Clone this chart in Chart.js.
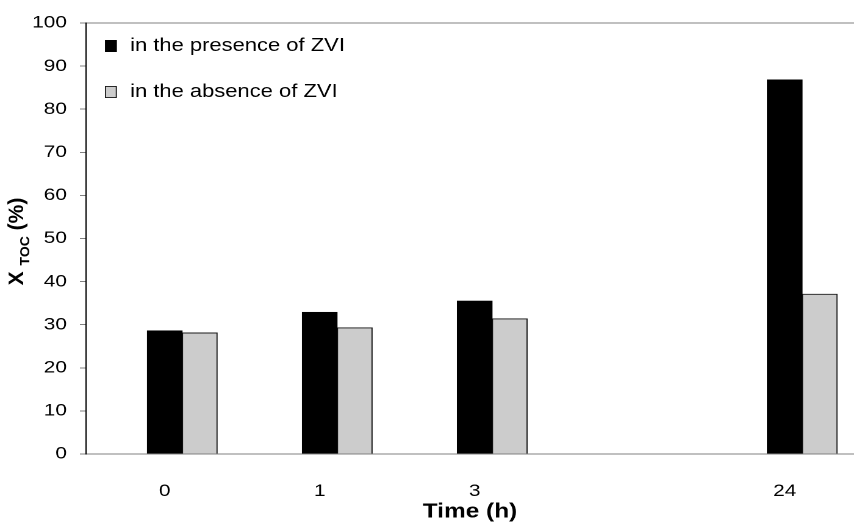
<!DOCTYPE html>
<html>
<head>
<meta charset="utf-8">
<script src="https://cdn.jsdelivr.net/npm/chart.js@4.4.0/dist/chart.umd.min.js"></script>
<style>
  html, body { margin: 0; padding: 0; background: #fff; overflow: hidden; }
  /* the original figure is stretched sideways, so the chart is drawn narrower and widened */
  #wrap { width: 700px; height: 527px; transform: scaleX(1.22); transform-origin: 0 0; }
</style>
</head>
<body>
<div id="wrap"><canvas id="chart" width="700" height="527"></canvas></div>
<script>
// Time categories (h) and the slot each one takes on the axis (slot 3 is left empty)
const times = ['0', '1', '3', '24'];
const slots = [0, 1, 2, 4];

// X_TOC (%) for both series
const withZVI = [28.6, 32.9, 35.5, 86.8];
const withoutZVI = [28.1, 29.3, 31.4, 37.1];

const seriesNames = ['in the presence of ZVI', 'in the absence of ZVI'];

const stretch = 1.22;
const font = "'Liberation Sans', Arial, sans-serif";
Chart.defaults.font.family = font;
Chart.defaults.color = '#000';

// Legend in the upper left corner of the plot
const cornerLegend = {
    id: 'cornerLegend',
    afterDraw(chart) {
        const ctx = chart.ctx;
        const area = chart.chartArea;
        ctx.save();
        ctx.font = '18px ' + font;
        ctx.textBaseline = 'middle';
        chart.data.datasets.forEach((ds, i) => {
            const cy = area.top + 23 + i * 46;
            const bx = area.left + 15.6;
            ctx.fillStyle = ds.backgroundColor;
            ctx.fillRect(bx, cy - 6, 9.6, 12);
            ctx.strokeStyle = '#000';
            ctx.lineWidth = 0.8;
            ctx.strokeRect(bx + 0.4, cy - 5.6, 8.8, 11.2);
            ctx.fillStyle = '#000';
            ctx.fillText(ds.label, bx + 20.5, cy);
        });
        ctx.restore();
    }
};

// Y axis title with the TOC subscript (kept at normal proportions)
const yTitle = {
    id: 'yTitle',
    afterDraw(chart) {
        const ctx = chart.ctx;
        const area = chart.chartArea;
        const big = 'bold 21px ' + font;
        const small = 'bold 14px ' + font;
        const parts = [
            { t: 'X ', f: big, dy: 0 },
            { t: 'TOC', f: small, dy: 6 },
            { t: ' (%)', f: big, dy: 0 }
        ];
        ctx.save();
        let total = 0;
        parts.forEach(p => { ctx.font = p.f; p.w = ctx.measureText(p.t).width; total += p.w; });
        const cy = (area.top + area.bottom) / 2 + 3;
        ctx.translate(23 / stretch, cy);
        ctx.scale(1 / stretch, 1);
        ctx.rotate(-Math.PI / 2);
        ctx.textBaseline = 'alphabetic';
        ctx.fillStyle = '#000';
        let x = -total / 2;
        parts.forEach(p => {
            ctx.font = p.f;
            ctx.fillText(p.t, x, p.dy);
            x += p.w;
        });
        ctx.restore();
    }
};

const xMin = -0.621;
const xMax = 4.334;
const barW = 28.7;

const ctx = document.getElementById('chart').getContext('2d');
const chart = new Chart(ctx, {
    type: 'bar',
    data: {
        datasets: [
            {
                label: seriesNames[0],
                data: slots.map((s, i) => ({ x: s, y: withZVI[i] })),
                backgroundColor: '#000000',
                borderColor: '#000000',
                borderWidth: 1,
                barThickness: barW
            },
            {
                label: seriesNames[1],
                data: slots.map((s, i) => ({ x: s, y: withoutZVI[i] })),
                backgroundColor: '#cccccc',
                borderColor: '#1a1a1a',
                borderWidth: 1,
                barThickness: barW
            }
        ]
    },
    options: {
        responsive: false,
        animation: false,
        devicePixelRatio: 2,
        layout: { padding: { top: 23, left: 0, right: 0, bottom: 0 } },
        plugins: {
            legend: { display: false },
            tooltip: { enabled: false }
        },
        scales: {
            x: {
                type: 'linear',
                position: 'bottom',
                offset: false,
                min: xMin,
                max: xMax,
                afterBuildTicks: s => { s.ticks = slots.map(v => ({ value: v })); },
                afterFit: s => { s.height = 73; },
                ticks: {
                    callback: v => times[slots.indexOf(v)],
                    labelOffset: -barW / 2,
                    padding: 19,
                    autoSkip: false,
                    maxRotation: 0,
                    font: { size: 17 },
                    color: '#000'
                },
                grid: { display: false },
                border: { display: true, color: '#808080', width: 1 },
                title: {
                    display: true,
                    text: 'Time (h)',
                    font: { size: 20, weight: 'bold' },
                    color: '#000',
                    padding: { top: 0, bottom: 3 }
                }
            },
            xTop: {
                type: 'linear',
                position: 'top',
                offset: false,
                min: xMin,
                max: xMax,
                afterFit: s => { s.height = 0; },
                ticks: { display: false },
                grid: { display: false },
                border: { display: true, color: '#808080', width: 1 }
            },
            y: {
                min: 0,
                max: 100,
                afterFit: s => { s.width = 86 / stretch; },
                ticks: {
                    stepSize: 10,
                    padding: 10.7,
                    font: { size: 17 },
                    color: '#000'
                },
                grid: {
                    drawOnChartArea: false,
                    drawTicks: true,
                    tickLength: 5,
                    color: '#808080'
                },
                border: { display: true, color: '#000', width: 1 }
            }
        }
    },
    plugins: [cornerLegend, yTitle]
});
</script>
</body>
</html>
